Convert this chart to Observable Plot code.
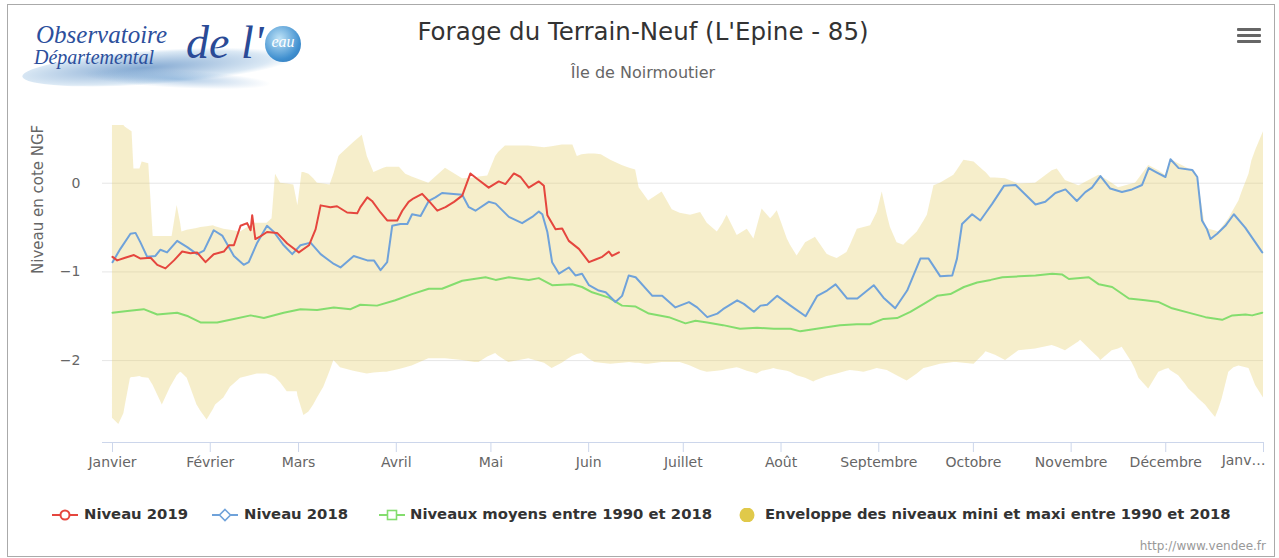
<!DOCTYPE html>
<html>
<head>
<meta charset="utf-8">
<script src="https://cdn.jsdelivr.net/npm/d3@7"></script>
<script src="https://cdn.jsdelivr.net/npm/@observablehq/plot@0.6"></script>
<style>
  html, body { margin: 0; padding: 0; background: #fff; }
  body { position: relative; width: 1279px; height: 558px; overflow: hidden; font-family: "DejaVu Sans", sans-serif; }
  .abs { position: absolute; }
  #frame { left: 7px; top: 4px; width: 1266px; height: 551px; border: 1px solid #aaa; }
  #title { left: 0; top: 17px; width: 1286px; text-align: center; font-size: 24.5px; color: #333; white-space: nowrap; }
  #subtitle { left: 0; top: 63px; width: 1286px; text-align: center; font-size: 16px; color: #666; white-space: nowrap; }
  .bar { left: 1237px; width: 24px; height: 3px; background: #666; border-radius: 1px; }
  #chart { left: 0; top: 100px; }
  .leg { top: 504px; font-family: "DejaVu Sans", sans-serif; font-weight: bold; font-size: 14.8px; color: #333; white-space: nowrap; line-height: 20px; }
  .sym { top: 507px; }
  #credits { right: 13px; top: 539px; font-size: 12px; color: #999; white-space: nowrap; }
  #logo { left: 22px; top: 18px; width: 285px; height: 80px; }
  #logo .sw1 { left: 0px; top: 32px; width: 270px; height: 34px; border-radius: 50%; background: radial-gradient(ellipse at 45% 50%, rgba(90,140,195,0.75), rgba(150,190,225,0.35) 60%, rgba(255,255,255,0) 72%); transform: rotate(-4deg); }
  #logo .sw2 { left: 60px; top: 52px; width: 190px; height: 18px; border-radius: 50%; background: radial-gradient(ellipse, rgba(110,160,210,0.55), rgba(255,255,255,0) 70%); transform: rotate(3deg); }
  #logo .t1 { left: 14px; top: 5px; line-height: 24px; font-family: "Liberation Serif", "DejaVu Serif", serif; font-style: italic; font-size: 25px; color: #2c4f9c; white-space: nowrap; }
  #logo .t2 { left: 12px; top: 30px; line-height: 19px; font-family: "Liberation Serif", "DejaVu Serif", serif; font-style: italic; font-size: 20px; color: #2c4f9c; white-space: nowrap; }
  #logo .t3 { left: 164px; top: 0px; line-height: 50px; font-family: "Liberation Serif", "DejaVu Serif", serif; font-style: italic; font-size: 46px; color: #2a4a96; white-space: nowrap; }
  #logo .drop { left: 243px; top: 8px; width: 36px; height: 36px; border-radius: 50%; background: radial-gradient(circle at 40% 35%, #bfe3f7, #3f8fcf 65%, #2c6fb0); }
  #logo .eau { left: 246px; top: 15px; width: 30px; line-height: 18px; text-align: center; font-family: "Liberation Serif", serif; font-style: italic; font-size: 16px; color: #fff; }
</style>
</head>
<body>
<div id="frame" class="abs"></div>
<div id="logo" class="abs">
  <div class="abs sw1"></div>
  <div class="abs sw2"></div>
  <div class="abs t1">Observatoire</div>
  <div class="abs t2">Départemental</div>
  <div class="abs t3">de l'</div>
  <div class="abs drop"></div>
  <div class="abs eau">eau</div>
</div>
<div id="title" class="abs">Forage du Terrain-Neuf (L'Epine - 85)</div>
<div id="subtitle" class="abs">Île de Noirmoutier</div>
<div class="abs bar" style="top:28px"></div>
<div class="abs bar" style="top:34px"></div>
<div class="abs bar" style="top:40px"></div>
<div id="chart" class="abs"></div>
<div id="legend"></div>
<div id="credits" class="abs">http://www.vendee.fr</div>
<script>
// ---- Data (day of year from 1 January; values in m NGF) ----
const monthLabels = ["Janvier", "Février", "Mars", "Avril", "Mai", "Juin", "Juillet", "Août", "Septembre", "Octobre", "Novembre", "Décembre", "Janv…"];
const monthStartDays = [0, 31, 59, 90, 120, 151, 181, 212, 243, 273, 304, 334, 365];
const yTicks = [0, -1, -2];
const yTickLabels = ["0", "−1", "−2"];

// Envelope of min / max levels 1990-2018
const envDay = [0, 2, 3.6, 4.1, 5.7, 6.2, 6.8, 8.7, 9.4, 11.5, 12.9, 15.8, 18.4, 18.9, 20.5, 21.6, 22, 23.7, 26.8, 28, 30, 32, 32.7, 35.3, 37.4, 40.6, 45, 45.9, 49, 50.6, 51.7, 53.3, 55.4, 57.5, 58.6, 58.8, 60.1, 60.7, 62.3, 63.8, 65, 67, 69, 70.2, 71.8, 72.3, 76.5, 79.2, 80.8, 82.9, 86, 87, 91, 93, 95, 100.3, 105.6, 111, 115, 116.2, 119, 121.5, 122.5, 124.6, 125.7, 132, 137, 139.4, 142.6, 144.7, 146, 147.4, 148.9, 151, 153, 155, 158, 161.6, 164, 165.9, 167, 169, 170, 174.3, 177.5, 180, 181.7, 183.3, 186.5, 188.6, 191.8, 193.6, 194.9, 198.1, 199, 201.3, 203.4, 204.4, 206, 208.7, 209.7, 210.8, 214, 215, 217.1, 219.8, 222.4, 222.9, 226.6, 227.7, 229.8, 232.9, 234, 236.2, 238.3, 240.4, 242.5, 244.1, 245.7, 246.7, 248.8, 250.9, 252, 255.2, 257.3, 258.4, 260.5, 262.5, 266.8, 267.8, 270, 273.2, 276.3, 277, 278.5, 280, 283.2, 287.4, 292.7, 298, 299.6, 302.2, 306.4, 307, 310.7, 312.8, 313.4, 317, 319, 320.2, 323.3, 324.4, 325.5, 328.6, 331.8, 333.9, 335, 335.5, 338.1, 340.3, 341.3, 343.4, 344.4, 346.6, 347.7, 349.8, 350.8, 351.9, 354, 355.6, 357.2, 358.2, 360.4, 361.3, 362.5, 365];
const envMin = [-2.65, -2.72, -2.6, -2.5, -2.2, -2.19, -2.19, -2.18, -2.19, -2.2, -2.28, -2.5, -2.3, -2.27, -2.17, -2.13, -2.14, -2.2, -2.5, -2.57, -2.67, -2.55, -2.5, -2.42, -2.3, -2.2, -2.16, -2.15, -2.15, -2.17, -2.19, -2.25, -2.35, -2.35, -2.35, -2.4, -2.55, -2.62, -2.58, -2.5, -2.42, -2.3, -2.12, -2.0, -2.06, -2.08, -2.12, -2.14, -2.15, -2.14, -2.13, -2.13, -2.1, -2.08, -2.06, -1.98, -1.98, -2.0, -2.02, -2.02, -1.96, -1.92, -1.95, -2.0, -2.02, -1.98, -2.03, -2.09, -2.03, -1.98, -1.95, -1.93, -1.92, -1.98, -2.02, -2.03, -2.04, -2.03, -2.02, -2.03, -2.03, -2.04, -2.04, -2.02, -2.02, -2.02, -2.04, -2.06, -2.11, -2.13, -2.12, -2.11, -2.1, -2.08, -2.09, -2.12, -2.14, -2.15, -2.12, -2.1, -2.09, -2.1, -2.12, -2.13, -2.17, -2.2, -2.24, -2.23, -2.18, -2.17, -2.15, -2.12, -2.11, -2.12, -2.13, -2.11, -2.09, -2.1, -2.11, -2.13, -2.17, -2.21, -2.23, -2.15, -2.09, -2.08, -2.06, -2.04, -2.02, -2.02, -2.03, -2.04, -1.93, -1.9, -1.92, -1.94, -2.0, -1.89, -1.87, -1.83, -1.85, -1.89, -1.79, -1.77, -1.9, -1.97, -2.0, -1.89, -1.87, -1.85, -2.02, -2.1, -2.2, -2.32, -2.13, -2.1, -2.09, -2.11, -2.17, -2.27, -2.32, -2.39, -2.43, -2.5, -2.55, -2.64, -2.55, -2.43, -2.13, -2.08, -2.06, -2.07, -2.09, -2.17, -2.28, -2.42];
const envMax = [0.65, 0.65, 0.65, 0.63, 0.59, 0.58, 0.16, 0.16, 0.24, 0.22, -0.6, -0.6, -0.6, -0.6, -0.25, -0.45, -0.55, -0.53, -0.51, -0.5, -0.49, -0.48, -0.49, -0.52, -0.53, -0.55, -0.45, -0.45, -0.45, -0.4, 0.1, 0.0, -0.01, -0.02, -0.22, -0.25, 0.12, 0.12, 0.1, 0.05, 0.0, -0.01, -0.02, 0.1, 0.3, 0.32, 0.46, 0.54, 0.3, 0.12, 0.17, 0.18, 0.18, 0.1, 0.07, 0.0, 0.17, 0.05, 0.06, 0.07, 0.08, 0.3, 0.35, 0.42, 0.42, 0.42, 0.4, 0.41, 0.43, 0.43, 0.43, 0.3, 0.32, 0.33, 0.33, 0.32, 0.26, 0.2, 0.17, 0.15, -0.05, -0.15, -0.2, -0.1, -0.3, -0.34, -0.35, -0.36, -0.33, -0.45, -0.55, -0.45, -0.36, -0.59, -0.57, -0.52, -0.63, -0.5, -0.29, -0.4, -0.36, -0.31, -0.63, -0.7, -0.82, -0.67, -0.62, -0.61, -0.8, -0.82, -0.85, -0.78, -0.7, -0.52, -0.5, -0.48, -0.33, -0.1, -0.36, -0.5, -0.67, -0.7, -0.66, -0.55, -0.43, -0.36, -0.03, 0.0, 0.09, 0.14, 0.26, 0.24, 0.14, 0.12, 0.06, 0.06, 0.05, -0.01, 0.0, 0.14, 0.16, 0.03, -0.03, -0.02, 0.05, 0.09, 0.08, 0.0, -0.05, -0.04, -0.01, 0.0, 0.05, 0.2, 0.14, 0.09, 0.2, 0.27, 0.22, 0.18, 0.16, 0.12, 0.0, -0.5, -0.52, -0.54, -0.55, -0.5, -0.4, -0.3, -0.2, -0.1, 0.1, 0.25, 0.37, 0.58];

// Mean levels 1990-2018
const meanDay = [0, 4.7, 9.9, 14.2, 20.5, 24, 27.9, 33.2, 38.5, 43.8, 48, 54.3, 59.6, 64.9, 70.2, 75.5, 78.6, 83.9, 89.7, 95, 100.3, 104.5, 110.9, 118.3, 121.5, 125.7, 132, 135.2, 139.4, 145.8, 148.9, 152.1, 157.4, 161.6, 165.9, 170.1, 176.4, 181.7, 184.9, 188.6, 193.6, 199, 204.4, 209.7, 215, 218.1, 225.4, 230.7, 236, 240.2, 244.5, 248.8, 253, 257.3, 261.5, 265.7, 270, 274.2, 278.5, 282.2, 287.4, 292.7, 298, 301.2, 303.3, 309.6, 312.8, 317, 322.3, 327.5, 331.8, 336, 342.4, 346.6, 351.9, 355.1, 359.3, 361.4, 364.6];
const meanVal = [-1.46, -1.44, -1.42, -1.48, -1.46, -1.5, -1.57, -1.57, -1.53, -1.49, -1.52, -1.46, -1.42, -1.43, -1.4, -1.42, -1.37, -1.38, -1.32, -1.25, -1.19, -1.19, -1.1, -1.06, -1.09, -1.06, -1.09, -1.07, -1.15, -1.14, -1.17, -1.23, -1.29, -1.38, -1.39, -1.47, -1.51, -1.58, -1.55, -1.57, -1.6, -1.64, -1.63, -1.64, -1.64, -1.67, -1.63, -1.6, -1.59, -1.59, -1.53, -1.52, -1.45, -1.36, -1.27, -1.25, -1.17, -1.12, -1.09, -1.06, -1.05, -1.04, -1.02, -1.03, -1.08, -1.06, -1.14, -1.17, -1.3, -1.32, -1.34, -1.41, -1.47, -1.51, -1.54, -1.49, -1.48, -1.49, -1.46];

// Niveau 2018
const day2018 = [0, 2.5, 5.7, 7.3, 8.9, 11, 13.6, 15.2, 17.3, 20.5, 23.7, 26.8, 29, 32.1, 34.8, 38.5, 41.6, 43.2, 45.9, 49, 51.2, 54.3, 57, 59.6, 62.8, 66, 70.2, 72.3, 76.5, 80.8, 82.9, 85, 87.1, 88.7, 91.3, 93.5, 95, 97.7, 100.3, 102.4, 104.5, 110.9, 113, 115.1, 119.3, 121.5, 125.7, 129.9, 133.1, 135.2, 136.3, 137.9, 139.4, 141.6, 144.7, 146.8, 148.9, 151.1, 154.2, 156.4, 159.5, 161.6, 163.7, 165.9, 171.2, 174.3, 178.5, 182.8, 185.4, 188.6, 191.8, 193.6, 198.1, 200.2, 203.4, 205.5, 207.6, 210.8, 215, 219.8, 223.5, 226.6, 229.3, 233, 236.2, 241.4, 244.5, 248.2, 252, 256.2, 258.8, 262.5, 266.3, 267.8, 269.4, 272.6, 275.2, 277, 279, 282.7, 286.4, 292.7, 295.8, 299, 302.2, 305.8, 308.5, 310.6, 313.3, 316.4, 320.1, 323.3, 326.5, 328.6, 331.2, 333.9, 335.5, 338.1, 342.4, 344, 345.5, 347.1, 348.2, 350.3, 352.9, 355.6, 359.2, 364.6];
const val2018 = [-0.89, -0.74, -0.57, -0.56, -0.67, -0.83, -0.82, -0.75, -0.78, -0.65, -0.72, -0.8, -0.76, -0.53, -0.59, -0.82, -0.92, -0.89, -0.67, -0.48, -0.55, -0.7, -0.8, -0.7, -0.67, -0.8, -0.91, -0.95, -0.82, -0.87, -0.87, -0.98, -0.89, -0.48, -0.46, -0.46, -0.35, -0.37, -0.2, -0.16, -0.11, -0.13, -0.27, -0.31, -0.21, -0.23, -0.38, -0.45, -0.38, -0.32, -0.35, -0.55, -0.89, -1.02, -0.95, -1.04, -1.02, -1.15, -1.21, -1.23, -1.34, -1.27, -1.04, -1.06, -1.27, -1.27, -1.4, -1.34, -1.4, -1.51, -1.47, -1.42, -1.32, -1.36, -1.45, -1.38, -1.37, -1.27, -1.38, -1.5, -1.27, -1.21, -1.14, -1.3, -1.3, -1.15, -1.29, -1.41, -1.21, -0.85, -0.85, -1.05, -1.04, -0.85, -0.46, -0.35, -0.42, -0.33, -0.23, -0.03, -0.02, -0.24, -0.21, -0.11, -0.07, -0.2, -0.1, -0.05, 0.08, -0.06, -0.1, -0.07, -0.02, 0.17, 0.12, 0.07, 0.27, 0.17, 0.15, 0.07, -0.42, -0.52, -0.63, -0.57, -0.48, -0.35, -0.5, -0.78];

// Niveau 2019
const day2019 = [0, 1.5, 4, 6.8, 8.9, 12.1, 14.2, 16.8, 19.5, 22.1, 24.7, 26.8, 29.5, 32.1, 35.3, 36.9, 38.5, 40.6, 42.7, 43.8, 44.3, 45.3, 46.9, 49, 52.2, 55.4, 59.1, 62.3, 64.4, 66, 69.1, 71.2, 74.4, 77.6, 78.6, 80.8, 82.3, 85, 87.1, 90.3, 91.9, 93.9, 95.5, 98.2, 100.3, 103, 105.6, 108.3, 110.9, 113.5, 115.6, 119.3, 122.5, 124.6, 127.3, 129.4, 132, 135.2, 136.8, 137.9, 140.5, 142.6, 144.7, 147.9, 151.1, 153.2, 155.3, 157.4, 158.4, 160.6];
const val2019 = [-0.83, -0.87, -0.84, -0.81, -0.85, -0.84, -0.92, -0.96, -0.87, -0.77, -0.79, -0.78, -0.89, -0.8, -0.77, -0.7, -0.7, -0.48, -0.45, -0.53, -0.36, -0.63, -0.6, -0.55, -0.56, -0.68, -0.78, -0.7, -0.52, -0.25, -0.27, -0.26, -0.33, -0.34, -0.27, -0.16, -0.2, -0.33, -0.42, -0.42, -0.31, -0.21, -0.17, -0.12, -0.2, -0.31, -0.27, -0.21, -0.14, 0.11, 0.05, -0.05, 0.02, -0.01, 0.11, 0.07, -0.05, 0.02, -0.03, -0.36, -0.52, -0.51, -0.65, -0.74, -0.89, -0.86, -0.83, -0.77, -0.82, -0.78];

// ---- Build ----
const base = Date.UTC(2019, 0, 1);
const toDate = d => new Date(base + d * 864e5);
const envelope = envDay.map((d, i) => ({date: toDate(d), min: envMin[i], max: envMax[i]}));
const mean = meanDay.map((d, i) => ({date: toDate(d), v: meanVal[i]}));
const s2018 = day2018.map((d, i) => ({date: toDate(d), v: val2018[i]}));
const s2019 = day2019.map((d, i) => ({date: toDate(d), v: val2019[i]}));
const monthTicks = monthStartDays.map(toDate);
const labelOf = new Map(monthTicks.map((t, i) => [+t, i < monthLabels.length - 1 ? monthLabels[i] : ""]));

const COLORS = {r2019: "#e5463e", r2018: "#6fa2da", mean: "#84dd6e", env: "#e6d070", envLegend: "#e0c94a"};

const chart = Plot.plot({
  width: 1279,
  height: 375,
  marginLeft: 102,
  marginRight: 16,
  marginTop: 5,
  marginBottom: 33,
  style: {fontFamily: "DejaVu Sans, sans-serif", fontSize: "14px", background: "transparent", overflow: "visible"},
  x: {type: "utc", domain: [toDate(-3.17), toDate(365)], axis: null},
  y: {domain: [-2.923, 0.876], axis: null},
  marks: [
    Plot.gridY(yTicks, {stroke: "#e6e6e6", strokeOpacity: 1}),
    Plot.areaY(envelope, {x: "date", y1: "min", y2: "max", fill: COLORS.env, fillOpacity: 0.36}),
    Plot.line(mean, {x: "date", y: "v", stroke: COLORS.mean, strokeWidth: 2}),
    Plot.line(s2018, {x: "date", y: "v", stroke: COLORS.r2018, strokeWidth: 2}),
    Plot.line(s2019, {x: "date", y: "v", stroke: COLORS.r2019, strokeWidth: 2}),
    Plot.frame({anchor: "bottom", stroke: "#ccd6eb"}),
    Plot.axisX(monthTicks, {tickSize: 10, tickPadding: 5, stroke: "#ccd6eb", fill: "#666", tickFormat: d => labelOf.get(+d), label: null}),
    Plot.text([monthLabels[monthLabels.length - 1]], {x: [monthTicks[monthTicks.length - 1]], frameAnchor: "bottom", dy: 22, dx: 2, textAnchor: "end", fill: "#666"}),
    Plot.text(yTickLabels, {y: yTicks, frameAnchor: "left", dx: -22, textAnchor: "end", fill: "#666"}),
    Plot.text(["Niveau en cote NGF"], {frameAnchor: "left", dx: -64, rotate: -90, fill: "#666", fontSize: 15})
  ]
});
document.getElementById("chart").appendChild(chart);

// ---- Legend ----
const legendItems = [
  {label: "Niveau 2019", color: COLORS.r2019, symbol: "circle", symX: 52, textX: 84},
  {label: "Niveau 2018", color: COLORS.r2018, symbol: "diamond", symX: 212, textX: 244},
  {label: "Niveaux moyens entre 1990 et 2018", color: COLORS.mean, symbol: "square", symX: 379, textX: 410},
  {label: "Enveloppe des niveaux mini et maxi entre 1990 et 2018", color: COLORS.envLegend, symbol: "dot", symX: 739, textX: 765}
];
const legend = document.getElementById("legend");
for (const it of legendItems) {
  let shape;
  if (it.symbol === "circle") shape = `<line x1="0" y1="7" x2="26" y2="7" stroke="${it.color}" stroke-width="2"/><circle cx="13" cy="7" r="4.5" fill="#fff" stroke="${it.color}" stroke-width="2"/>`;
  else if (it.symbol === "diamond") shape = `<line x1="0" y1="7" x2="26" y2="7" stroke="${it.color}" stroke-width="2"/><path d="M13 1.5 L18.5 7 L13 12.5 L7.5 7 Z" fill="#fff" stroke="${it.color}" stroke-width="1.6"/>`;
  else if (it.symbol === "square") shape = `<line x1="0" y1="7" x2="26" y2="7" stroke="${it.color}" stroke-width="2"/><rect x="8.5" y="2.5" width="9" height="9" fill="#fff" stroke="${it.color}" stroke-width="1.6"/>`;
  else shape = `<circle cx="8" cy="7" r="7.5" fill="${it.color}"/>`;
  const s = document.createElement("div");
  s.className = "abs sym";
  s.style.left = it.symX + "px";
  s.innerHTML = `<svg width="26" height="14">${shape}</svg>`;
  legend.appendChild(s);
  const t = document.createElement("div");
  t.className = "abs leg";
  t.style.left = it.textX + "px";
  t.textContent = it.label;
  legend.appendChild(t);
}
</script>
</body>
</html>
